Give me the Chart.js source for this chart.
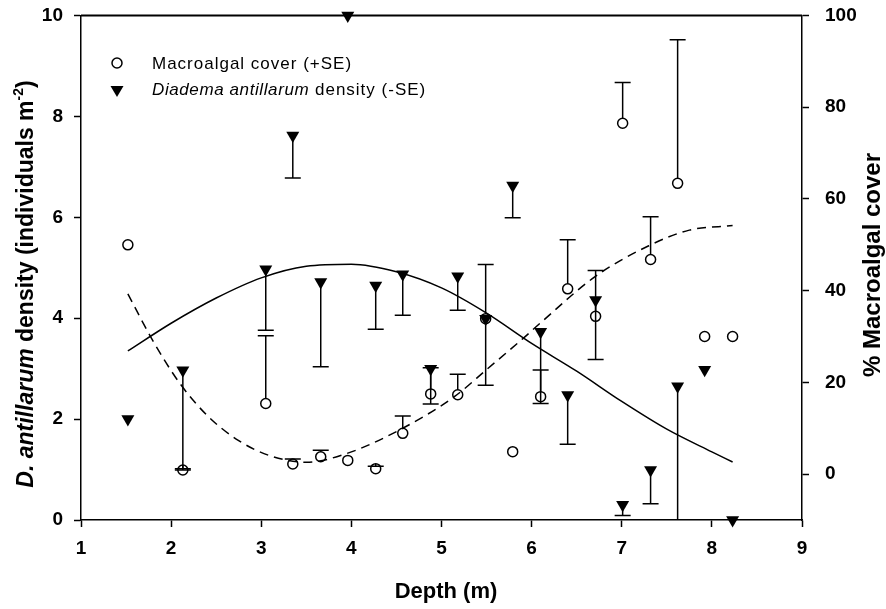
<!DOCTYPE html>
<html>
<head>
<meta charset="utf-8">
<script src="https://cdn.jsdelivr.net/npm/chart.js@4.4.0/dist/chart.umd.min.js"></script>
<style>
  html, body { margin: 0; padding: 0; background: #fff; }
  #wrap { width: 886px; height: 609px; }
</style>
</head>
<body>
<div id="wrap"><canvas id="depthChart"></canvas></div>
<script>
const depths = [1.52, 2.13, 3.05, 3.35, 3.66, 3.96, 4.27, 4.57, 4.88, 5.18, 5.49, 5.79, 6.10, 6.40, 6.71, 7.01, 7.32, 7.62, 7.92, 8.23];
const urchinDensity = [2.0, 2.97, 4.97, 7.62, 4.72, 10.0, 4.65, 4.87, 3.0, 4.83, 3.99, 6.63, 3.73, 2.48, 4.36, 0.30, 0.99, 2.65, 2.98, 0.0];
const urchinSE = [0, 1.98, 1.21, 0.84, 1.68, 0, 0.87, 0.81, 0.70, 0.67, 1.32, 0.64, 1.42, 0.98, 1.18, 0.21, 0.67, 3.0, 0, 0];
const algalCover = [50.0, 0.9, 15.4, 2.2, 3.8, 3.0, 1.2, 8.9, 17.5, 17.3, 33.9, 4.9, 16.9, 40.4, 34.4, 76.5, 46.8, 63.4, 30.0, 30.0];
const algalSE = [0, 0.3, 14.8, 1.1, 1.4, 0, 0.5, 3.8, 5.7, 4.5, 11.8, 0, 5.8, 10.7, 10.0, 8.9, 9.3, 31.3, 0, 0];

// fitted curves
const densityFitX = [1.52, 2.0, 2.5, 3.0, 3.5, 4.0, 4.5, 5.0, 5.5, 6.0, 6.5, 7.0, 7.5, 8.0, 8.23];
const densityFitY = [3.35, 3.9, 4.4, 4.8, 5.03, 5.07, 4.92, 4.6, 4.1, 3.5, 2.95, 2.35, 1.8, 1.35, 1.15];
const coverFitX = [1.52, 1.8, 2.1, 2.4, 2.75, 3.1, 3.5, 3.95, 4.55, 5.15, 5.5, 5.9, 6.1, 6.7, 7.3, 7.75, 8.23];
const coverFitY = [39.3, 29.0, 19.7, 12.8, 7.3, 4.0, 2.6, 4.5, 9.8, 17.0, 22.8, 29.5, 33.0, 43.0, 49.8, 53.2, 54.2];

const xTicks = [1, 2, 3, 4, 5, 6, 7, 8, 9];
const leftTicks = [0, 2, 4, 6, 8, 10];
const rightTicks = [0, 20, 40, 60, 80, 100];

const FONT = "'Liberation Sans', Arial, sans-serif";
const circleR = 5;

const toPoints = (xs, ys) => xs.map((x, i) => ({x: x, y: ys[i]}));

const errorBars = {
    id: 'errorBars',
    beforeDatasetsDraw(chart) {
        const {ctx, chartArea, scales} = chart;
        const cap = 8;
        ctx.save();
        ctx.beginPath();
        ctx.rect(chartArea.left, chartArea.top, chartArea.right - chartArea.left, chartArea.bottom - chartArea.top);
        ctx.clip();
        ctx.strokeStyle = '#000';
        ctx.lineWidth = 1.5;
        depths.forEach((d, i) => {
            const px = scales.x.getPixelForValue(d);
            if (urchinSE[i] > 0) {
                const y0 = scales.y.getPixelForValue(urchinDensity[i]);
                const y1 = scales.y.getPixelForValue(urchinDensity[i] - urchinSE[i]);
                ctx.beginPath();
                ctx.moveTo(px, y0); ctx.lineTo(px, y1);
                ctx.moveTo(px - cap, y1); ctx.lineTo(px + cap, y1);
                ctx.stroke();
            }
            if (algalSE[i] > 0) {
                const y0 = scales.y1.getPixelForValue(algalCover[i]) - circleR;
                const y1 = scales.y1.getPixelForValue(algalCover[i] + algalSE[i]);
                ctx.beginPath();
                ctx.moveTo(px, y0); ctx.lineTo(px, y1);
                ctx.moveTo(px - cap, y1); ctx.lineTo(px + cap, y1);
                ctx.stroke();
            }
        });
        ctx.restore();
    }
};

// draws pieces of text in a row, each with its own font
function drawRuns(ctx, runs, x, y) {
    let cx = x;
    runs.forEach(r => {
        ctx.font = r.font;
        ctx.letterSpacing = r.spacing || '0px';
        ctx.fillText(r.text, cx, y + (r.dy || 0));
        cx += ctx.measureText(r.text).width;
    });
    return cx - x;
}
function runsWidth(ctx, runs) {
    let w = 0;
    runs.forEach(r => {
        ctx.font = r.font;
        ctx.letterSpacing = r.spacing || '0px';
        w += ctx.measureText(r.text).width;
    });
    return w;
}

const decorations = {
    id: 'decorations',
    afterDraw(chart) {
        const {ctx, chartArea} = chart;
        ctx.save();
        // top frame line
        ctx.strokeStyle = '#000';
        ctx.lineWidth = 2;
        ctx.beginPath();
        ctx.moveTo(chartArea.left, chartArea.top);
        ctx.lineTo(chartArea.right, chartArea.top);
        ctx.stroke();

        ctx.fillStyle = '#000';
        ctx.textBaseline = 'middle';
        ctx.textAlign = 'left';

        // legend
        ctx.lineWidth = 1.5;
        ctx.beginPath();
        ctx.arc(117, 63, circleR, 0, Math.PI * 2);
        ctx.stroke();
        ctx.beginPath();
        ctx.moveTo(117 - 6.5, 86);
        ctx.lineTo(117 + 6.5, 86);
        ctx.lineTo(117, 97);
        ctx.closePath();
        ctx.fill();
        drawRuns(ctx, [{text: 'Macroalgal cover (+SE)', font: '17px ' + FONT, spacing: '1px'}], 152, 64);
        drawRuns(ctx, [
            {text: 'Diadema antillarum', font: 'italic 17px ' + FONT, spacing: '0.6px'},
            {text: ' density (-SE)', font: '17px ' + FONT, spacing: '1px'}
        ], 152, 90);

        // x title
        ctx.textAlign = 'center';
        ctx.letterSpacing = '0px';
        ctx.font = 'bold 22px ' + FONT;
        ctx.fillText('Depth (m)', 446, 592);

        // left title
        ctx.textAlign = 'left';
        const leftRuns = [
            {text: 'D. antillarum', font: 'italic bold 23px ' + FONT},
            {text: ' density (individuals m', font: 'bold 23px ' + FONT},
            {text: '-2', font: 'bold 14px ' + FONT, dy: -8},
            {text: ')', font: 'bold 23px ' + FONT}
        ];
        ctx.save();
        ctx.translate(27, 284);
        ctx.rotate(-Math.PI / 2);
        drawRuns(ctx, leftRuns, -runsWidth(ctx, leftRuns) / 2, 0);
        ctx.restore();

        // right title
        ctx.save();
        ctx.translate(873, 265);
        ctx.rotate(-Math.PI / 2);
        ctx.textAlign = 'center';
        ctx.font = 'bold 24px ' + FONT;
        ctx.letterSpacing = '0px';
        ctx.fillText('% Macroalgal cover', 0, 0);
        ctx.restore();

        ctx.restore();
    }
};

const axisLine = {color: '#000', width: 1.5};
const tickGrid = {drawOnChartArea: false, drawTicks: true, tickLength: 7, tickColor: '#000', tickWidth: 1.5};
const tickFont = {family: FONT, size: 19, weight: 'bold'};

const fitVertical = w => s => {
    s.width = w;
    s.paddingTop = 0;
    s.paddingBottom = 0;
};

const ctx = document.getElementById('depthChart').getContext('2d');
const depthChart = new Chart(ctx, {
    type: 'scatter',
    data: {
        datasets: [
            {
                label: 'Macroalgal cover (+SE)',
                data: toPoints(depths, algalCover),
                yAxisID: 'y1',
                pointStyle: 'circle',
                pointRadius: circleR,
                pointBorderWidth: 1.5,
                pointBackgroundColor: 'rgba(0,0,0,0)',
                pointBorderColor: '#000',
                clip: false
            },
            {
                label: 'Diadema antillarum density (-SE)',
                data: toPoints(depths, urchinDensity),
                yAxisID: 'y',
                pointStyle: 'triangle',
                rotation: 180,
                pointRadius: 7.5,
                pointBorderWidth: 0,
                pointBackgroundColor: '#000',
                pointBorderColor: '#000',
                clip: false
            },
            {
                label: 'density fit',
                data: toPoints(densityFitX, densityFitY),
                yAxisID: 'y',
                showLine: true,
                pointRadius: 0,
                borderColor: '#000',
                borderWidth: 1.5,
                cubicInterpolationMode: 'monotone'
            },
            {
                label: 'cover fit',
                data: toPoints(coverFitX, coverFitY),
                yAxisID: 'y1',
                showLine: true,
                pointRadius: 0,
                borderColor: '#000',
                borderWidth: 1.5,
                borderDash: [9, 6],
                cubicInterpolationMode: 'monotone'
            }
        ]
    },
    options: {
        responsive: true,
        maintainAspectRatio: false,
        animation: false,
        layout: {padding: {top: 15.5, left: 0, right: 0, bottom: 0}},
        plugins: {
            legend: {display: false},
            tooltip: {enabled: false}
        },
        scales: {
            x: {
                type: 'linear',
                position: 'bottom',
                min: 1,
                max: 9,
                afterBuildTicks: s => { s.ticks = xTicks.map(v => ({value: v})); },
                afterFit: s => { s.height = 89; s.paddingLeft = 0; s.paddingRight = 0; },
                ticks: {font: tickFont, color: '#000', padding: 10},
                grid: tickGrid,
                border: axisLine
            },
            y: {
                type: 'linear',
                position: 'left',
                min: 0,
                max: 10,
                afterBuildTicks: s => { s.ticks = leftTicks.map(v => ({value: v})); },
                afterFit: fitVertical(81),
                ticks: {font: tickFont, color: '#000', padding: 11},
                grid: tickGrid,
                border: axisLine
            },
            y1: {
                type: 'linear',
                position: 'right',
                min: -10,
                max: 100,
                afterBuildTicks: s => { s.ticks = rightTicks.map(v => ({value: v})); },
                afterFit: fitVertical(84),
                ticks: {font: tickFont, color: '#000', padding: 16},
                grid: tickGrid,
                border: axisLine
            }
        }
    },
    plugins: [errorBars, decorations]
});
</script>
</body>
</html>
